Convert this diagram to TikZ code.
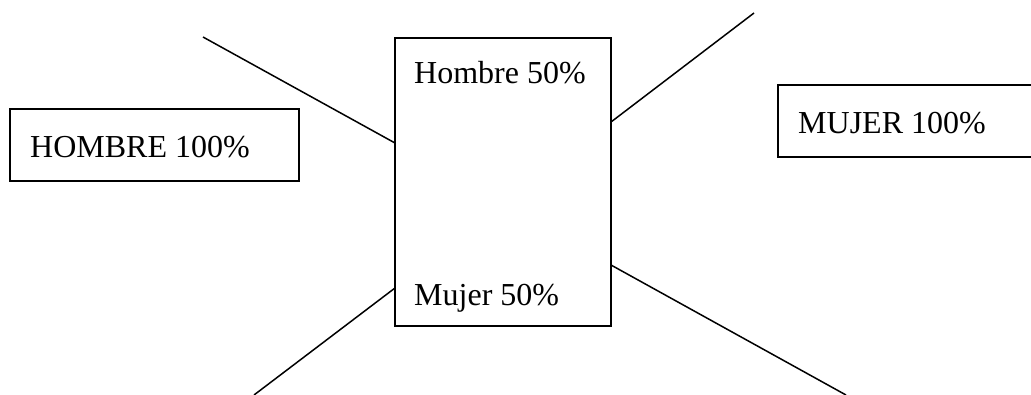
\documentclass[tikz,border=0pt]{standalone}
\usepackage{fontspec}
\setmainfont{Liberation Serif}
\begin{document}
\begin{tikzpicture}[x=1pt,y=-1pt,
  box/.style={draw, line width=1.5pt, rectangle, inner sep=0pt, outer sep=0pt, anchor=north west},
  lbl/.style={anchor=base west, inner sep=0pt, font=\fontsize{32}{38}\selectfont},
  conn/.style={line width=1.5pt}]
\useasboundingbox (0,0) rectangle (1031,394);
\clip (0,0) rectangle (1031,394);
\fill[white] (0,0) rectangle (1031,394);
% boxes
\node[box, minimum width=289pt, minimum height=72pt] (hbox) at (10,109) {};
\node[box, minimum width=216pt, minimum height=288pt] (center) at (395,38) {};
\node[box, minimum width=280pt, minimum height=72pt] (mbox) at (778,85) {};
% texts
\node[lbl] (ht) at (30,157) {HOMBRE 100\%};
\node[lbl] (mt) at (798,133) {MUJER 100\%};
\node[lbl] (h50) at (414,83) {Hombre 50\%};
\node[lbl] (m50) at (414,305) {Mujer 50\%};
% connector ends on the centre box
\coordinate (c1) at (395,143);
\coordinate (c2) at (395,288);
\coordinate (c3) at (611,122);
\coordinate (c4) at (611,265);
% free ends
\coordinate (e1) at (203,37);
\coordinate (e2) at (254,395);
\coordinate (e3) at (754,13);
\coordinate (e4) at (846,395);
\draw[conn] (c1) -- (e1);
\draw[conn] (c2) -- (e2);
\draw[conn] (c3) -- (e3);
\draw[conn] (c4) -- (e4);
\end{tikzpicture}
\end{document}
